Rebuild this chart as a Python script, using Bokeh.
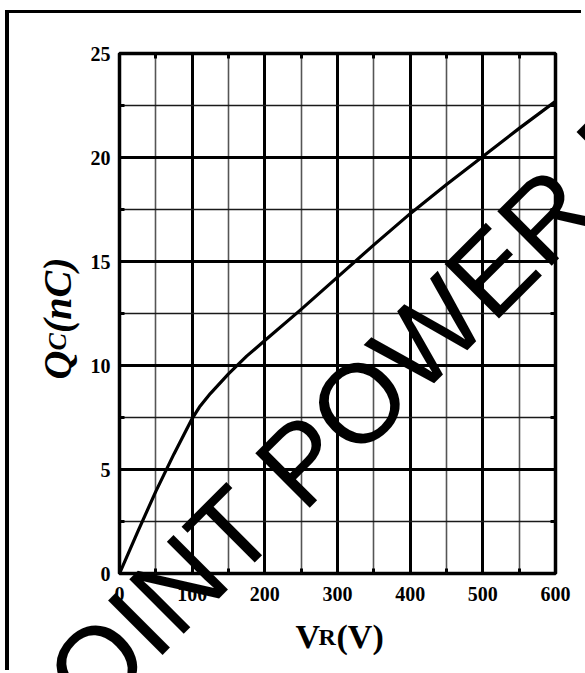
import numpy as np
from bokeh.plotting import figure
from bokeh.models import Range1d, FixedTicker, LinearAxis, Label
from bokeh.embed import file_html
from bokeh.resources import INLINE

# ---- data ----
vr = [0, 25, 50, 75, 100, 110, 125, 150, 175, 200, 250, 300, 350, 400, 450, 500, 550, 600]
qc = [0, 2.0, 3.95, 5.75, 7.45, 8.0, 8.65, 9.6, 10.45, 11.2, 12.7, 14.25, 15.8, 17.3, 18.7, 20.05, 21.4, 22.7]

x_ticks = [0, 100, 200, 300, 400, 500, 600]
x_minor = [50, 150, 250, 350, 450, 550]
y_ticks = [0, 5, 10, 15, 20, 25]
y_minor = [2.5, 7.5, 12.5, 17.5, 22.5]

x_title = ["V", "R", "(V)"]
y_title = ["Q", "C", "(nC)"]
watermark = "POINT POWER P"

# ---- main chart ----
W, H = 576, 660
p = figure(width=W, height=H, output_backend="svg", toolbar_location=None,
           x_range=Range1d(0, 600), y_range=Range1d(0, 25),
           min_border_left=110, min_border_right=30, min_border_top=40, min_border_bottom=100,
           background_fill_color="white", border_fill_color="white",
           styles={"position": "absolute", "left": "5px", "top": "10px",
                   "border-left": "4px solid black", "border-top": "3px solid black"})

p.outline_line_color = "black"
p.outline_line_width = 3.5

xt = FixedTicker(ticks=x_ticks, minor_ticks=x_minor)
yt = FixedTicker(ticks=y_ticks, minor_ticks=y_minor)

p.below[0].ticker = xt
p.left[0].ticker = yt
p.xgrid.ticker = xt
p.ygrid.ticker = yt

p.xgrid.grid_line_color = "black"
p.xgrid.grid_line_width = 3
p.xgrid.minor_grid_line_color = "#555555"
p.xgrid.minor_grid_line_width = 1.6
p.ygrid.grid_line_color = "black"
p.ygrid.grid_line_width = 3
p.ygrid.minor_grid_line_color = "#1a1a1a"
p.ygrid.minor_grid_line_width = 1.6

# top / right edges: only the small inside minor ticks, no labels
p.add_layout(LinearAxis(ticker=FixedTicker(ticks=[], minor_ticks=x_minor)), "above")
p.add_layout(LinearAxis(ticker=FixedTicker(ticks=[], minor_ticks=y_minor)), "right")

for ax in p.axis:
    ax.axis_line_color = None
    ax.major_tick_in = 0
    ax.major_tick_out = 0
    ax.minor_tick_in = 5
    ax.minor_tick_out = 0
    ax.minor_tick_line_width = 3
    ax.minor_tick_line_color = "black"
    ax.major_label_text_font = "Liberation Serif"
    ax.major_label_text_font_style = "bold"
    ax.major_label_text_font_size = "20px"
    ax.major_label_text_color = "black"

p.below[0].major_label_standoff = 13
p.left[0].major_label_standoff = 9

p.line(vr, qc, line_color="black", line_width=3.2, line_join="round")

# ---- overlay canvas for titles and watermark (not clipped to plot frame) ----
o = figure(width=W, height=H, output_backend="svg", toolbar_location=None,
           x_range=Range1d(0, W), y_range=Range1d(0, H),
           min_border=0, x_axis_location=None, y_axis_location=None,
           outline_line_color=None, background_fill_alpha=0, border_fill_alpha=0,
           styles={"position": "absolute", "left": "9px", "top": "13px"})
o.grid.visible = False

OX, OY = 9, 13  # page offset of the overlay canvas
def cx(px):
    return px - OX
def cy(py):
    return H - (py - OY)

serif = "Liberation Serif"

# x axis title
for txt, px, size in zip(x_title, [295, 318, 336], ["34px", "24px", "34px"]):
    o.add_layout(Label(x=cx(px), y=cy(636), text=txt, text_font=serif, text_font_style="bold",
                       text_font_size=size, text_baseline="alphabetic", text_align="left",
                       text_color="black"))

# y axis title (rotated)
for txt, py, size in zip(y_title, [379, 350, 332.5], ["40px", "26px", "40px"]):
    o.add_layout(Label(x=cx(57), y=cy(py), text=txt, text_font=serif, text_font_style="bold italic",
                       text_font_size=size, angle=np.pi / 2, text_baseline="alphabetic",
                       text_align="left", text_color="black"))

# watermark
o.add_layout(Label(x=cx(13), y=cy(749), text=watermark, text_font="Liberation Sans",
                   text_font_size="112px", angle=np.pi / 4, text_baseline="alphabetic",
                   text_align="left", text_color="black"))

open("out.html", "w").write(file_html([p, o], INLINE))
